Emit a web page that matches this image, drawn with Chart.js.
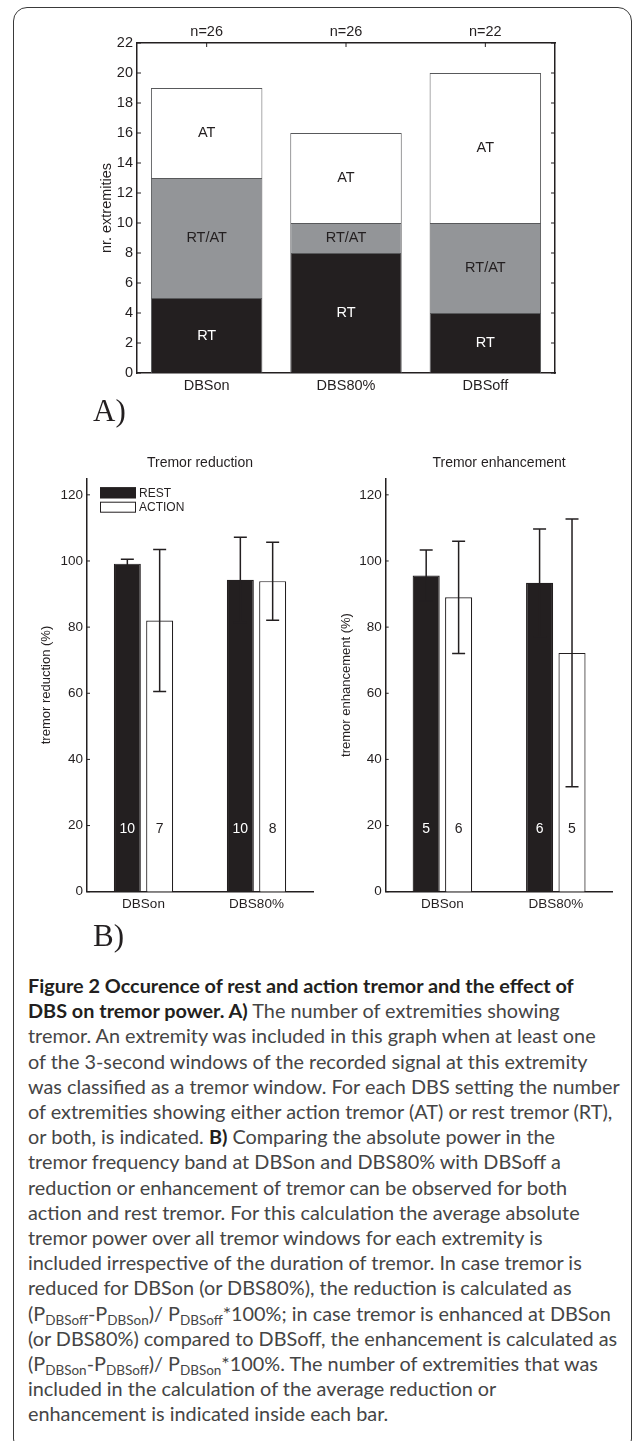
<!DOCTYPE html>
<html>
<head>
<meta charset="utf-8">
<script src="https://cdn.jsdelivr.net/npm/chart.js@4.4.0/dist/chart.umd.min.js"></script>
<style>
html, body { margin: 0; padding: 0; background: #fff; }
body { width: 633px; height: 1441px; position: relative; overflow: hidden; }
#frame { position: absolute; left: 13px; top: 7px; width: 619px; height: 1446px; border: 1.5px solid #3a3a3a; border-radius: 14px; box-sizing: border-box; }
canvas { position: absolute; }
.panel { position: absolute; left: 93px; font-family: "Liberation Serif", "Times New Roman", serif; font-size: 31px; line-height: 31px; color: #231f20; }
#caption { position: absolute; left: 28px; top: 973px; font-family: Lato, "Open Sans", sans-serif; font-size: 20px; line-height: 25.2px; color: #454545; white-space: nowrap; }
#caption b { color: #231f20; }
#caption div { display: block; width: max-content; }
sub { font-size: 0.68em; vertical-align: -0.3em; line-height: 0; }
</style>
</head>
<body>
<div id="frame"></div>
<canvas id="chartA" width="633" height="440" style="left:0;top:0"></canvas>
<div class="panel" style="top:395px">A)</div>
<canvas id="chartRed" width="316" height="480" style="left:0;top:445px"></canvas>
<canvas id="chartEnh" width="333" height="480" style="left:300px;top:445px"></canvas>
<div class="panel" style="top:920px">B)</div>
<div id="caption">
<div><b>Figure 2 Occurence of rest and action tremor and the effect of</b></div>
<div><b>DBS on tremor power. A)</b> The number of extremities showing</div>
<div>tremor. An extremity was included in this graph when at least one</div>
<div>of the 3-second windows of the recorded signal at this extremity</div>
<div id="fitLine">was classified as a tremor window. For each DBS setting the number</div>
<div>of extremities showing either action tremor (AT) or rest tremor (RT),</div>
<div>or both, is indicated. <b>B)</b> Comparing the absolute power in the</div>
<div>tremor frequency band at DBSon and DBS80% with DBSoff a</div>
<div>reduction or enhancement of tremor can be observed for both</div>
<div>action and rest tremor. For this calculation the average absolute</div>
<div>tremor power over all tremor windows for each extremity is</div>
<div>included irrespective of the duration of tremor. In case tremor is</div>
<div>reduced for DBSon (or DBS80%), the reduction is calculated as</div>
<div>(P<sub>DBSoff</sub>-P<sub>DBSon</sub>)/ P<sub>DBSoff</sub>*100%; in case tremor is enhanced at DBSon</div>
<div>(or DBS80%) compared to DBSoff, the enhancement is calculated as</div>
<div>(P<sub>DBSon</sub>-P<sub>DBSoff</sub>)/ P<sub>DBSon</sub>*100%. The number of extremities that was</div>
<div>included in the calculation of the average reduction or</div>
<div>enhancement is indicated inside each bar.</div>
</div>
<script>
// A) number of extremities per DBS setting
const catsA = ["DBSon", "DBS80%", "DBSoff"];
const nLabels = ["n=26", "n=26", "n=22"];
const rtA = [5, 8, 4];
const rtatA = [8, 2, 6];
const atA = [6, 6, 10];

// B) tremor reduction / enhancement (%), mean and error
const catsB = ["DBSon", "DBS80%"];
const redRest = [99.2, 94.3];
const redRestErr = [1.3, 12.9];
const redAction = [82.0, 93.9];
const redActionErr = [21.5, 11.8];
const redRestN = [10, 10];
const redActionN = [7, 8];

const enhRest = [95.6, 93.4];
const enhRestErr = [7.7, 16.3];
const enhAction = [89.0, 72.2];
const enhActionErr = [17.0, 40.5];
const enhRestN = [5, 6];
const enhActionN = [6, 5];

const ink = "#231f20";
const grey = "#939598";
const FONT = '"Liberation Sans", Arial, sans-serif';

Chart.defaults.font.family = FONT;
Chart.defaults.color = ink;
Chart.defaults.animation = false;

const fixW = w => s => { s.width = w; };
const fixH = h => s => { s.height = h; };
const noGrid = { display: false, drawTicks: false };
const axisLine = { display: true, color: ink, width: 1.5 };

// small ticks pointing into the plot, matlab style
const inTicks = {
  id: "inTicks",
  afterDatasetsDraw(chart, args, o) {
    const { ctx, chartArea: a, scales } = chart;
    ctx.save();
    ctx.strokeStyle = ink;
    ctx.lineWidth = 1;
    ctx.beginPath();
    scales.y.ticks.forEach(t => {
      const py = scales.y.getPixelForValue(t.value);
      ctx.moveTo(a.left, py); ctx.lineTo(a.left + o.len, py);
      if (o.right) { ctx.moveTo(a.right, py); ctx.lineTo(a.right - o.len, py); }
    });
    if (o.top) {
      scales.xTop.ticks.forEach((t, i) => {
        const px = scales.xTop.getPixelForTick(i);
        ctx.moveTo(px, a.top); ctx.lineTo(px, a.top + o.len);
      });
    }
    ctx.stroke();
    ctx.restore();
  }
};

// RT / RT/AT / AT inside the stacked segments
const segLabels = {
  id: "segLabels",
  afterDatasetsDraw(chart) {
    const { ctx } = chart;
    ctx.save();
    ctx.font = "14.5px " + FONT;
    ctx.textAlign = "center";
    ctx.textBaseline = "middle";
    chart.data.datasets.forEach((ds, i) => {
      ctx.fillStyle = ds.textColor;
      chart.getDatasetMeta(i).data.forEach(el => {
        ctx.fillText(ds.label, el.x, (el.y + el.base) / 2);
      });
    });
    ctx.restore();
  }
};

new Chart(document.getElementById("chartA"), {
  type: "bar",
  data: {
    labels: catsA,
    datasets: [
      { label: "RT", data: rtA, backgroundColor: ink, textColor: "#fff" },
      { label: "RT/AT", data: rtatA, backgroundColor: grey, textColor: ink },
      { label: "AT", data: atA, backgroundColor: "#fff", textColor: ink }
    ]
  },
  options: {
    responsive: false,
    layout: { padding: { left: 0, right: 77, top: 0, bottom: 0 } },
    datasets: { bar: { categoryPercentage: 0.8, barPercentage: 1, borderColor: "#58595b", borderWidth: 1 } },
    plugins: { legend: { display: false }, tooltip: { enabled: false }, inTicks: { len: 4, right: true, top: true } },
    scales: {
      x: { stacked: true, grid: noGrid, border: axisLine, ticks: { font: { size: 14.5 }, padding: 4 }, afterFit: fixH(67) },
      xTop: { type: "category", labels: nLabels, position: "top", grid: noGrid, border: axisLine, ticks: { font: { size: 14.5 }, padding: 2 }, afterFit: fixH(43) },
      y: {
        stacked: true, min: 0, max: 22,
        ticks: { stepSize: 2, font: { size: 14.5 }, padding: 4 },
        grid: noGrid, border: axisLine,
        title: { display: true, text: "nr. extremities", font: { size: 14.5 }, padding: { top: 98, bottom: 0 } },
        afterFit: fixW(137)
      },
      yR: { position: "right", min: 0, max: 22, ticks: { display: false, stepSize: 2 }, grid: noGrid, border: axisLine, afterFit: fixW(1) }
    }
  },
  plugins: [segLabels, inTicks]
});

// error bars + n inside each bar
const errBars = {
  id: "errBars",
  afterDatasetsDraw(chart) {
    const { ctx, scales: { y } } = chart;
    ctx.save();
    chart.data.datasets.forEach((ds, i) => {
      chart.getDatasetMeta(i).data.forEach((el, j) => {
        const v = ds.data[j], e = ds.err[j];
        const top = y.getPixelForValue(v + e), bot = y.getPixelForValue(v - e);
        ctx.strokeStyle = ink;
        ctx.lineWidth = 1.5;
        ctx.beginPath();
        ctx.moveTo(el.x, top); ctx.lineTo(el.x, bot);
        ctx.moveTo(el.x - 6.5, top); ctx.lineTo(el.x + 6.5, top);
        ctx.moveTo(el.x - 6.5, bot); ctx.lineTo(el.x + 6.5, bot);
        ctx.stroke();
        ctx.fillStyle = ds.textColor;
        ctx.font = "14px " + FONT;
        ctx.textAlign = "center";
        ctx.textBaseline = "middle";
        ctx.fillText(String(ds.counts[j]), el.x, y.getPixelForValue(19));
      });
    });
    ctx.restore();
  }
};

const panelTitle = {
  id: "panelTitle",
  afterDraw(chart, args, o) {
    const { ctx, chartArea: a } = chart;
    ctx.save();
    ctx.font = "14px " + FONT;
    ctx.fillStyle = ink;
    ctx.textAlign = "center";
    ctx.textBaseline = "middle";
    ctx.fillText(o.text, (a.left + a.right) / 2, a.top - 15.6);
    ctx.restore();
  }
};

const boxLegend = {
  id: "boxLegend",
  afterDraw(chart, args, o) {
    if (!o.show) return;
    const { ctx, chartArea: a } = chart;
    ctx.save();
    ctx.font = "12px " + FONT;
    ctx.textBaseline = "middle";
    chart.data.datasets.forEach((ds, i) => {
      const x = a.left + 13, y = a.top + 9 + i * 14.4;
      ctx.fillStyle = ds.backgroundColor;
      ctx.fillRect(x, y, 36, 11);
      ctx.strokeStyle = ink;
      ctx.lineWidth = 1;
      ctx.strokeRect(x + 0.5, y + 0.5, 35, 10);
      ctx.fillStyle = ink;
      ctx.fillText(ds.label, x + 39, y + 6);
    });
    ctx.restore();
  }
};

function makeB(id, title, yTitle, rest, restErr, restN, action, actionErr, actionN, yWidth, padRight, legend) {
  return new Chart(document.getElementById(id), {
    type: "bar",
    data: {
      labels: catsB,
      datasets: [
        { label: "REST", data: rest, err: restErr, counts: restN, backgroundColor: ink, textColor: "#fff" },
        { label: "ACTION", data: action, err: actionErr, counts: actionN, backgroundColor: "#fff", textColor: ink }
      ]
    },
    options: {
      responsive: false,
      layout: { padding: { left: 0, right: padRight, top: 33.3, bottom: 0 } },
      datasets: { bar: { categoryPercentage: 0.572, barPercentage: 0.835, borderColor: ink, borderWidth: 1.2 } },
      plugins: {
        legend: { display: false }, tooltip: { enabled: false },
        inTicks: { len: 3, right: false, top: false },
        panelTitle: { text: title },
        boxLegend: { show: legend }
      },
      scales: {
        x: { grid: noGrid, border: axisLine, ticks: { font: { size: 13.5 }, padding: 4 }, afterFit: fixH(33.3) },
        y: {
          min: 0, max: 125,
          ticks: { stepSize: 20, includeBounds: false, font: { size: 13.5 }, padding: 4 },
          grid: noGrid, border: axisLine,
          title: { display: true, text: yTitle, font: { size: 13 }, padding: { top: 38.9, bottom: 0 } },
          afterFit: fixW(yWidth)
        }
      }
    },
    plugins: [errBars, inTicks, panelTitle, boxLegend]
  });
}

makeB("chartRed", "Tremor reduction", "tremor reduction (%)", redRest, redRestErr, redRestN, redAction, redActionErr, redActionN, 87, 3, true);
makeB("chartEnh", "Tremor enhancement", "tremor enhancement (%)", enhRest, enhRestErr, enhRestN, enhAction, enhActionErr, enhActionN, 85.7, 20.5, false);

// size the caption so the longest line spans the frame like the original
document.fonts.ready.then(() => {
  const cap = document.getElementById("caption");
  const w = document.getElementById("fitLine").getBoundingClientRect().width;
  cap.style.fontSize = (20 * 592 / w).toFixed(2) + "px";
});
</script>
</body>
</html>
